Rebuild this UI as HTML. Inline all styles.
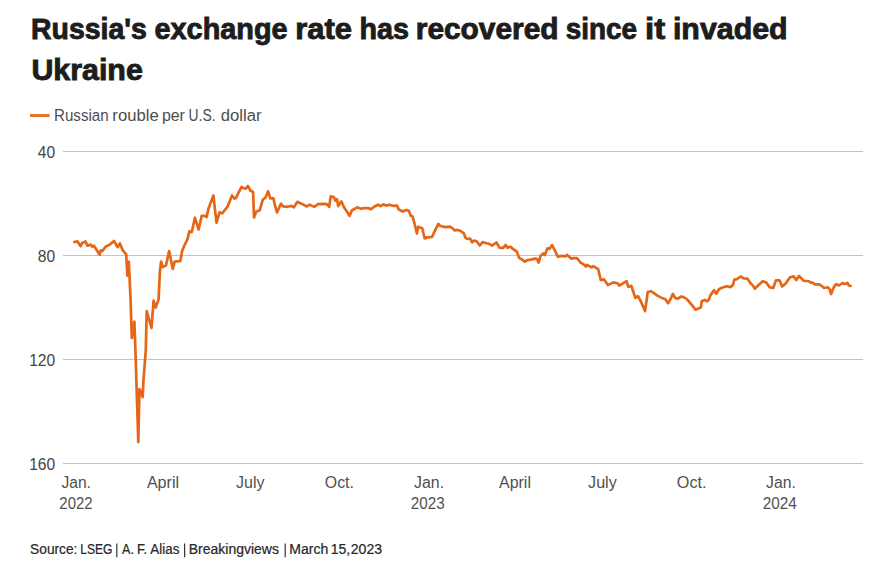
<!DOCTYPE html>
<html><head><meta charset="utf-8"><style>
html,body{margin:0;padding:0;background:#fff;width:894px;height:566px;overflow:hidden}
svg{display:block;font-family:"Liberation Sans",sans-serif}
.title{font-weight:bold;font-size:29.5px;fill:#1d1d1d;stroke:#1d1d1d;stroke-width:0.9px}
.sub{font-size:16.3px;fill:#4d4d4d}
.src{font-size:13.8px;fill:#262626;stroke:#262626;stroke-width:0.2px}
.grid line{stroke:#c4c4c4;stroke-width:1}
.yl{font-size:15.6px;fill:#444}
.xl text{font-size:16px;fill:#505050}
</style></head><body>
<svg width="894" height="566" viewBox="0 0 894 566">
<text class="title" x="31.07" y="38.5" textLength="115.83" lengthAdjust="spacingAndGlyphs">Russia's</text>
<text class="title" x="154.55" y="38.5" textLength="133.02" lengthAdjust="spacingAndGlyphs">exchange</text>
<text class="title" x="295.32" y="38.5" textLength="56.70" lengthAdjust="spacingAndGlyphs">rate</text>
<text class="title" x="359.56" y="38.5" textLength="49.46" lengthAdjust="spacingAndGlyphs">has</text>
<text class="title" x="415.78" y="38.5" textLength="142.78" lengthAdjust="spacingAndGlyphs">recovered</text>
<text class="title" x="565.68" y="38.5" textLength="71.37" lengthAdjust="spacingAndGlyphs">since</text>
<text class="title" x="644.99" y="38.5" textLength="20.12" lengthAdjust="spacingAndGlyphs">it</text>
<text class="title" x="672.95" y="38.5" textLength="114.64" lengthAdjust="spacingAndGlyphs">invaded</text>
<text class="title" x="31.43" y="79.5" textLength="111.38" lengthAdjust="spacingAndGlyphs">Ukraine</text>
<text class="sub" x="53.99" y="121" textLength="54.70" lengthAdjust="spacingAndGlyphs">Russian</text>
<text class="sub" x="112.38" y="121" textLength="46.30" lengthAdjust="spacingAndGlyphs">rouble</text>
<text class="sub" x="161.92" y="121" textLength="23.00" lengthAdjust="spacingAndGlyphs">per</text>
<text class="sub" x="188.58" y="121" textLength="26.93" lengthAdjust="spacingAndGlyphs">U.S.</text>
<text class="sub" x="220.79" y="121" textLength="40.75" lengthAdjust="spacingAndGlyphs">dollar</text>
<text class="src" x="30.10" y="553.6" textLength="47.33" lengthAdjust="spacingAndGlyphs">Source:</text>
<text class="src" x="80.24" y="553.6" textLength="32.28" lengthAdjust="spacingAndGlyphs">LSEG</text>
<rect x="116.2" y="543.5" width="1.2" height="13.8" fill="#333"/>
<text class="src" x="122.10" y="553.6" textLength="11.82" lengthAdjust="spacingAndGlyphs">A.</text>
<text class="src" x="136.95" y="553.6" textLength="10.22" lengthAdjust="spacingAndGlyphs">F.</text>
<text class="src" x="150.30" y="553.6" textLength="29.09" lengthAdjust="spacingAndGlyphs">Alias</text>
<rect x="184.0" y="543.5" width="1.2" height="13.8" fill="#333"/>
<text class="src" x="188.79" y="553.6" textLength="90.12" lengthAdjust="spacingAndGlyphs">Breakingviews</text>
<rect x="284.6" y="543.5" width="1.2" height="13.8" fill="#333"/>
<text class="src" x="289.38" y="553.6" textLength="38.90" lengthAdjust="spacingAndGlyphs">March</text>
<text class="src" x="330.69" y="553.6" textLength="19.47" lengthAdjust="spacingAndGlyphs">15,</text>
<text class="src" x="350.79" y="553.6" textLength="31.30" lengthAdjust="spacingAndGlyphs">2023</text>
<line x1="30" y1="115.5" x2="49.6" y2="115.5" stroke="#e3762a" stroke-width="3"/>
<g class="grid">
<line x1="63" y1="151.5" x2="863" y2="151.5"/>
<text class="yl" x="55.2" y="157.9" text-anchor="end">40</text>
<line x1="63" y1="255.5" x2="863" y2="255.5"/>
<text class="yl" x="55.2" y="261.9" text-anchor="end">80</text>
<line x1="63" y1="359.5" x2="863" y2="359.5"/>
<text class="yl" x="55.2" y="365.9" text-anchor="end">120</text>
<line x1="63" y1="463.5" x2="863" y2="463.5"/>
<text class="yl" x="55.2" y="469.9" text-anchor="end">160</text>
</g>
<g class="xl">
<text x="61.40" y="487.8" textLength="29.51" lengthAdjust="spacingAndGlyphs">Jan.</text>
<text x="146.90" y="487.8" textLength="32.16" lengthAdjust="spacingAndGlyphs">April</text>
<text x="236.10" y="487.8" textLength="28.40" lengthAdjust="spacingAndGlyphs">July</text>
<text x="324.80" y="487.8" textLength="29.13" lengthAdjust="spacingAndGlyphs">Oct.</text>
<text x="414.10" y="487.8" textLength="30.03" lengthAdjust="spacingAndGlyphs">Jan.</text>
<text x="499.10" y="487.8" textLength="31.85" lengthAdjust="spacingAndGlyphs">April</text>
<text x="588.10" y="487.8" textLength="28.60" lengthAdjust="spacingAndGlyphs">July</text>
<text x="676.89" y="487.8" textLength="29.67" lengthAdjust="spacingAndGlyphs">Oct.</text>
<text x="766.10" y="487.8" textLength="29.72" lengthAdjust="spacingAndGlyphs">Jan.</text>
<text x="59.36" y="508.9" textLength="33.09" lengthAdjust="spacingAndGlyphs">2022</text>
<text x="410.84" y="508.9" textLength="33.82" lengthAdjust="spacingAndGlyphs">2023</text>
<text x="762.83" y="508.9" textLength="34.05" lengthAdjust="spacingAndGlyphs">2024</text>
</g>
<polyline points="74.3,242.0 77.5,241.4 80.7,246.2 82.2,243 85.4,241.4 87.5,245.7 90.7,244.6 92.3,246.7 93.9,245.7 99.7,254.7 100.8,250.4 102.4,251 105.5,246.7 109.8,244.6 114,240.9 117.7,247.2 119.9,243.5 122.6,250 126.2,254.4 127.4,275.6 128.8,261.5 130.6,300 131.8,338 134.4,321.5 135.6,355 136.5,385 138.3,442 139.5,389 141.5,393 142.7,397 143.5,380 145.8,350 146.7,311 151.5,328 153.6,300.5 155.6,307.5 158.6,299.4 159.9,271 161.1,261.7 162.9,267.2 166,265.4 169.1,251.1 172.8,269 174.7,261.7 180.3,261 182.1,251.1 184.6,245 187.4,239.4 189.3,231.4 191.8,232 194.9,217.7 198.6,229.5 201.7,215.9 204.8,215.9 206.6,217.1 208.5,208.5 213.4,195.5 216.5,222.7 219.6,212.2 222.1,213.4 227.6,206.6 232,195.5 234.5,198.6 235.9,198 238.5,192.7 241.6,186.9 243.8,188.3 245.6,188.7 247.8,186 250.5,190.5 253.1,192.2 254,217.4 256.2,211.7 259.7,210.3 262.8,199.7 265.5,197.5 268.1,191.3 270.3,198.4 273.4,198.4 274.8,204.6 277,212.5 280.9,203.7 283.1,206.4 287.1,206.8 291.5,205.9 293.9,207.3 297.4,201.8 301,203.4 306.8,206.5 309.6,204.6 314.3,206.9 317.8,204.2 322.9,203.8 326.8,204.2 329.2,206.9 330.7,196.4 333.9,197.1 335.4,200.7 337,199.1 338.2,206.1 341.3,201.4 344,207.3 346.4,210.8 349.5,215.9 351.9,210.5 356.6,207.7 357.7,207.4 361.2,208.7 363.8,208.1 368.3,208.1 370.9,209.3 374.5,206.5 378,204.7 380.6,206.1 383.3,204.3 385.9,205.6 389.5,204.7 393,205.8 397,205.6 398.8,209.6 402.7,211.4 406.3,210 408.9,210.9 410.7,215.8 412.5,216.2 414.7,224.2 416.9,233.5 418.2,226.8 422.2,228.2 424.7,238.5 427,237.3 432.1,236.9 434.9,230.7 438.4,224 440.4,226 445.1,227.1 449.8,226.7 452.1,227.9 454.5,230.3 457.6,229.9 460.7,231.1 463.9,233.4 465.4,237.7 467,238.9 470.1,238.5 472.1,242.4 474,240.5 476.4,241.2 479.9,245.5 482.6,242 486.6,243.2 488.9,243.7 492,245.7 496.4,242.5 499.5,247.6 503,248 505.8,244.9 507.3,247.6 510.5,246.8 513.2,249.2 516.7,251.5 519.1,257.8 521.8,259.4 524.9,261.7 527.3,260.1 532,259.4 535.1,258.6 537.1,259 538.6,262.5 540.6,255.8 543.3,253.5 544.9,255.1 547.3,248.4 549.6,248.8 552.1,245.1 554.9,250.6 558,256.8 561.5,255.9 565,256.4 567.2,255 571.2,258.6 573.9,258.1 577,258.1 580.5,262.5 583.6,264.3 585.8,266.5 587.1,264.8 591.6,267.4 593.3,266.1 598.2,269.2 600.8,280.2 603.9,279.3 607.9,285.1 613.2,282.4 617.5,283.3 619.4,285.5 622.5,283.7 626.5,281.1 628.3,286.8 631.4,285.9 633.1,291.2 635.3,297.9 638,296.1 640.6,300.9 645.1,311.1 647.7,292.1 650.8,291.2 654.3,293.4 657.4,295.6 661.9,297.9 665.4,299.2 668,303.2 670.3,299.6 672.9,293.9 675.1,297.9 677.8,298.7 681.3,296.5 682.7,296.8 686.2,298.6 688.8,301.3 692.4,305.7 695.5,309.7 697.7,308.8 700.8,307.4 701.7,301.3 704.8,299.9 707,301.3 708.7,299.9 710.5,295.1 714,290.2 716.3,293.7 718.9,289.3 722.4,287.5 726.9,286.2 730.4,287.1 733,284.9 734.4,279.6 737,279.1 740.6,276.5 743.7,278.3 747.5,278.6 750.3,283 753,285.6 754.7,288.7 758.3,285.2 762.7,281.2 766.2,282.5 769.8,287.4 773.3,287.9 775.9,280.3 779.5,280.3 782.1,286.5 785.7,283.4 790.1,277.2 793.6,276.4 796.3,279.9 798.9,275.9 803.8,280.8 808.6,281 810.7,282.7 812.8,282.7 814.9,284.4 819.1,284.4 822,286.2 824.1,288 827.6,287.3 829.4,288.7 831.1,294 833.3,288.3 836.1,284.1 838.9,285.5 842.5,283 844.6,284.1 847.4,283 848.8,285.5 850.6,285.8" fill="none" stroke="#e66617" stroke-width="2.7" stroke-linejoin="round" stroke-linecap="round"/>
</svg>
</body></html>
